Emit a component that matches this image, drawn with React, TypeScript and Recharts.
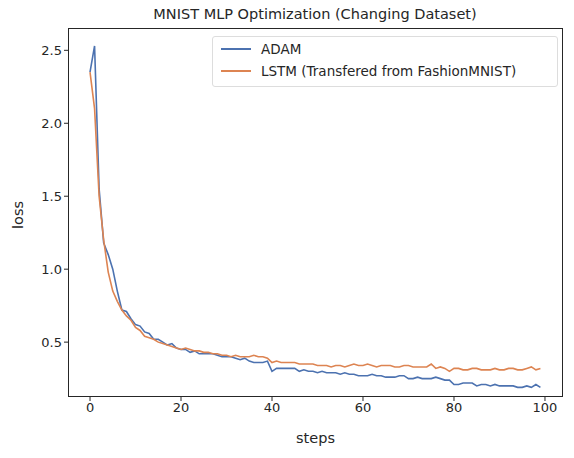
import React from "react";
import { LineChart, Line, XAxis, YAxis } from "recharts";

const adam = [2.35, 2.53, 1.55, 1.18, 1.1, 1.0, 0.85, 0.72, 0.71, 0.66, 0.62, 0.61, 0.57, 0.56, 0.52, 0.52, 0.5, 0.48, 0.49, 0.46, 0.45, 0.45, 0.43, 0.44, 0.42, 0.42, 0.42, 0.42, 0.41, 0.4, 0.4, 0.4, 0.39, 0.38, 0.39, 0.37, 0.36, 0.36, 0.36, 0.37, 0.3, 0.32, 0.32, 0.32, 0.32, 0.32, 0.3, 0.31, 0.3, 0.3, 0.29, 0.3, 0.29, 0.29, 0.29, 0.28, 0.29, 0.28, 0.28, 0.27, 0.27, 0.27, 0.28, 0.27, 0.27, 0.26, 0.26, 0.26, 0.27, 0.27, 0.25, 0.25, 0.26, 0.25, 0.25, 0.25, 0.26, 0.25, 0.24, 0.24, 0.21, 0.21, 0.22, 0.22, 0.22, 0.2, 0.21, 0.21, 0.2, 0.21, 0.2, 0.2, 0.2, 0.2, 0.19, 0.19, 0.2, 0.19, 0.21, 0.19];
const lstm = [2.35, 2.1, 1.5, 1.2, 0.98, 0.85, 0.78, 0.72, 0.68, 0.65, 0.6, 0.58, 0.54, 0.53, 0.52, 0.5, 0.49, 0.48, 0.47, 0.46, 0.45, 0.46, 0.45, 0.44, 0.44, 0.43, 0.43, 0.42, 0.42, 0.41, 0.41, 0.4, 0.41, 0.4, 0.4, 0.4, 0.41, 0.4, 0.4, 0.39, 0.36, 0.37, 0.36, 0.36, 0.36, 0.36, 0.35, 0.35, 0.35, 0.35, 0.34, 0.34, 0.34, 0.33, 0.34, 0.34, 0.33, 0.34, 0.35, 0.34, 0.34, 0.35, 0.34, 0.33, 0.34, 0.34, 0.34, 0.33, 0.33, 0.34, 0.34, 0.33, 0.33, 0.33, 0.33, 0.35, 0.32, 0.33, 0.32, 0.3, 0.32, 0.32, 0.31, 0.31, 0.32, 0.32, 0.31, 0.31, 0.31, 0.32, 0.31, 0.31, 0.32, 0.32, 0.31, 0.31, 0.32, 0.33, 0.31, 0.32];
const xTicks = [0, 20, 40, 60, 80, 100];
const yTicks = [0.5, 1.0, 1.5, 2.0, 2.5];

const data = adam.map((a, i) => ({ step: i, adam: a, lstm: lstm[i] }));
const font = "DejaVu Sans, sans-serif";
const tick = { fontSize: 13, fill: "#262626", fontFamily: font };

export default function App() {
  return (
    <div style={{ position: "absolute", left: 0, top: 0, width: 574, height: 458, background: "#fff", fontFamily: font }}>
      <LineChart width={574} height={458} data={data} margin={{ top: 28, right: 11, bottom: 21, left: 8 }}>
        <XAxis dataKey="step" type="number" domain={[-4.84, 103.96]} ticks={xTicks} allowDataOverflow
          tick={tick} tickLine={{ stroke: "#262626" }} tickSize={4} axisLine={false} height={40} />
        <YAxis type="number" domain={[0.124, 2.653]} ticks={yTicks} allowDataOverflow width={60}
          tick={tick} tickFormatter={(v: number) => v.toFixed(1)} tickLine={{ stroke: "#262626" }} tickSize={4} axisLine={false} />
        <Line dataKey="adam" stroke="#4c72b0" strokeWidth={1.6} dot={false} isAnimationActive={false} />
        <Line dataKey="lstm" stroke="#dd8452" strokeWidth={1.6} dot={false} isAnimationActive={false} />
      </LineChart>
      <div style={{ position: "absolute", left: 68, top: 28, width: 495, height: 369, border: "1.5px solid #262626", boxSizing: "border-box", pointerEvents: "none" }} />
      <div style={{ position: "absolute", left: 0, top: 6, width: 630, textAlign: "center", fontSize: 14.5, color: "#262626" }}>MNIST MLP Optimization (Changing Dataset)</div>
      <div style={{ position: "absolute", left: 68, width: 495, top: 430, textAlign: "center", fontSize: 14.5, color: "#262626" }}>steps</div>
      <div style={{ position: "absolute", left: 18, top: 215, transform: "translate(-50%,-50%) rotate(-90deg)", fontSize: 14.5, color: "#262626" }}>loss</div>
      <div style={{ position: "absolute", left: 212, top: 36, width: 346, height: 51, border: "1px solid #ddd", borderRadius: 3, boxSizing: "border-box", fontSize: 13.5, color: "#262626" }}>
        {[["#4c72b0", "ADAM"], ["#dd8452", "LSTM (Transfered from FashionMNIST)"]].map(([c, n], i) => (
          <div key={n} style={{ position: "absolute", left: 8, top: 4 + i * 22, display: "flex", alignItems: "center" }}>
            <span style={{ width: 30, height: 2, background: c, marginRight: 10 }} />
            <span>{n}</span>
          </div>
        ))}
      </div>
    </div>
  );
}
